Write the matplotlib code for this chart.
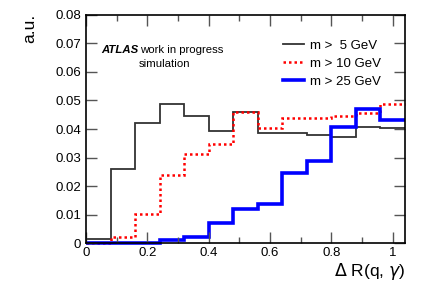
import numpy as np
import matplotlib
matplotlib.use("Agg")
import matplotlib.pyplot as plt
from matplotlib.ticker import MultipleLocator, FixedLocator

plt.rcParams['font.family'] = ['Liberation Sans', 'DejaVu Sans']

bin_edges = [0.0, 0.08, 0.16, 0.24, 0.32, 0.40, 0.48, 0.56, 0.64, 0.72, 0.80, 0.88, 0.96, 1.04]
m5 = [0.0014, 0.0260, 0.0420, 0.0487, 0.0446, 0.0393, 0.0460, 0.0387, 0.0385, 0.0379, 0.0372, 0.0408, 0.0404]
m10 = [0.0002, 0.0023, 0.0104, 0.0238, 0.0311, 0.0347, 0.0460, 0.0402, 0.0437, 0.0439, 0.0445, 0.0457, 0.0487]
m25 = [0.0001, 0.0001, 0.0002, 0.0012, 0.0021, 0.0070, 0.0119, 0.0136, 0.0245, 0.0289, 0.0406, 0.0470, 0.0432]
labels = ["m >  5 GeV", "m > 10 GeV", "m > 25 GeV"]
x_ticks = [0, 0.2, 0.4, 0.6, 0.8, 1.0]
x_ticklabels = ["0", "0.2", "0.4", "0.6", "0.8", "1"]
y_ticks = [0, 0.01, 0.02, 0.03, 0.04, 0.05, 0.06, 0.07, 0.08]
y_ticklabels = ["0", "0.01", "0.02", "0.03", "0.04", "0.05", "0.06", "0.07", "0.08"]

W, H = 427, 290
fig = plt.figure(figsize=(W/100, H/100), dpi=100)
ax = fig.add_axes([86/W, 1-243.3/H, (405-86)/W, (243.3-14.7)/H])

ax.stairs(m5, bin_edges, baseline=None, color='#333333', lw=1.3, label=labels[0], clip_on=False)
ax.stairs(m10, bin_edges, baseline=None, color='#ff0000', lw=1.8, ls=(0, (1, 1.2)), label=labels[1], clip_on=False)
ax.stairs(m25, bin_edges, baseline=None, color='#0000ff', lw=2.6, label=labels[2], clip_on=False)

ax.set_xlim(0, 1.04)
ax.set_ylim(0, 0.08)
ax.xaxis.set_major_locator(FixedLocator(x_ticks))
ax.set_xticklabels(x_ticklabels)
ax.xaxis.set_minor_locator(MultipleLocator(0.1))
ax.yaxis.set_major_locator(FixedLocator(y_ticks))
ax.set_yticklabels(y_ticklabels)
ax.tick_params(which='both', direction='in', top=True, right=True, labelsize=9.5, color='#555555')
ax.tick_params(which='major', length=8, width=1)
ax.tick_params(which='minor', length=4, width=1)
ax.tick_params(axis='x', pad=3)
for s in ax.spines.values():
    s.set_linewidth(1.2)

fig.text(30/W, 1-28/H, "a.u.", rotation=90, ha='center', va='center', fontsize=12.5)
fig.text(405/W, 1-272/H, r"$\Delta$ R(q, $\gamma$)", ha='right', va='center', fontsize=12.5)

fig.text(101.5/W, 1-50/H, "ATLAS", fontweight='bold', fontstyle='italic', fontsize=8.2, va='center', ha='left')
fig.text(140.5/W, 1-50/H, "work in progress", fontsize=8.2, va='center', ha='left')
fig.text(164/W, 1-64/H, "simulation", fontsize=8.2, va='center', ha='center')

leg = ax.legend(loc='upper left', bbox_to_anchor=((278-86)/(405-86), (243.3-34)/(243.3-14.7)),
                frameon=False, fontsize=9.5, handlelength=1.6, handletextpad=0.4,
                labelspacing=0.45, borderaxespad=0)

fig.savefig("out.png", dpi=100)
